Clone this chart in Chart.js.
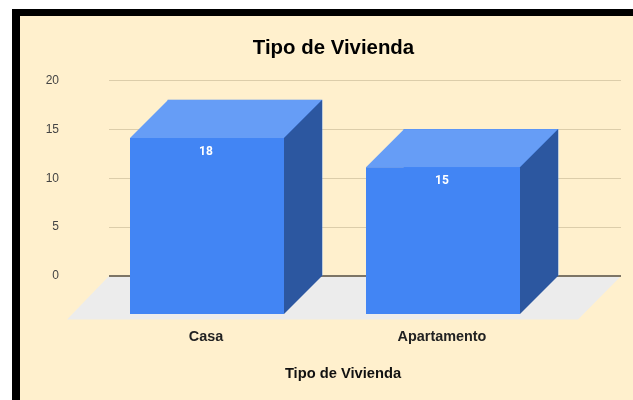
<!DOCTYPE html>
<html><head><meta charset="utf-8">
<style>
html,body{margin:0;padding:0;background:#fff;width:633px;height:400px;overflow:hidden}
#panel{position:absolute;left:12px;top:9px;width:613px;height:384px;border-left:8px solid #000;border-top:7px solid #000;background:#fff0cd}
#wrap{position:absolute;left:0;top:0;width:633px;height:400px}
</style>
<script src="https://cdn.jsdelivr.net/npm/chart.js@4"></script>
</head><body>
<div id="panel"></div>
<div id="wrap"><canvas id="c" width="633" height="400"></canvas></div>
<script>
const categories = ['Casa', 'Apartamento'];
const seriesName = 'Tipo de Vivienda';
const seriesValues = [18, 15];
const yTicks = [0, 5, 10, 15, 20];
const chartTitle = 'Tipo de Vivienda';
const xAxisTitle = 'Tipo de Vivienda';

const DEPTH = 38;
const FONT = '"Liberation Sans", Arial, sans-serif';
const poly = (ctx, pts, fill) => {
  ctx.beginPath();
  pts.forEach((p, i) => i ? ctx.lineTo(p[0], p[1]) : ctx.moveTo(p[0], p[1]));
  ctx.closePath();
  ctx.fillStyle = fill;
  ctx.fill();
};
const box3d = {
  id: 'box3d',
  afterLayout(chart) {
    chart.titleBlock.left += 17;
    chart.titleBlock.right += 17;
  },
  beforeDatasetsDraw(chart) {
    const { ctx, chartArea: a, scales: { y } } = chart;
    const L = a.left - 18, R = a.right + 22;
    const y0 = y.getPixelForValue(0);
    ctx.save();
    poly(ctx, [[L, y0], [R, y0], [R - 43, y0 + 43.5], [L - 42, y0 + 43.5]], '#ececec');
    yTicks.forEach(v => {
      const py = Math.round(y.getPixelForValue(v));
      ctx.fillStyle = v === 0 ? '#7d7566' : '#dccdaa';
      const h = v === 0 ? 2 : 1;
      ctx.fillRect(L, py - (v === 0 ? 1 : 0), R - L, h);
    });
    ctx.restore();
  },
  afterDatasetsDraw(chart) {
    const { ctx } = chart;
    const meta = chart.getDatasetMeta(0);
    ctx.save();
    meta.data.forEach((bar, i) => {
      const l = bar.x - bar.width / 2, r = bar.x + bar.width / 2, t = bar.y, b = bar.base;
      poly(ctx, [[l - DEPTH, t + DEPTH], [l, t], [r, t], [r - DEPTH, t + DEPTH]], '#669df6');
      poly(ctx, [[r - DEPTH, t + DEPTH], [r, t], [r, b], [r - DEPTH, b + DEPTH]], '#2c57a0');
      poly(ctx, [[l - DEPTH, t + DEPTH], [r - DEPTH, t + DEPTH], [r - DEPTH, b + DEPTH], [l - DEPTH, b + DEPTH]], '#4285f4');
      ctx.fillStyle = '#fff';
      ctx.font = 'bold 12px Roboto, ' + FONT;
      ctx.textAlign = 'center';
      ctx.textBaseline = 'middle';
      ctx.fillText(String(seriesValues[i]), bar.x - DEPTH - 1, t + DEPTH + 14);
    });
    ctx.fillStyle = '#111';
    ctx.font = 'bold 14.7px ' + FONT;
    ctx.textAlign = 'center';
    ctx.textBaseline = 'middle';
    ctx.fillText(xAxisTitle, 343, 374);
    ctx.restore();
  }
};
new Chart(document.getElementById('c'), {
  type: 'bar',
  data: {
    labels: categories,
    datasets: [{ label: seriesName, data: seriesValues, backgroundColor: '#4285f4', borderWidth: 0, barThickness: 154 }]
  },
  options: {
    responsive: false,
    animation: false,
    layout: { padding: { left: 34, right: 34, top: 0, bottom: 0 } },
    plugins: {
      legend: { display: false },
      tooltip: { enabled: false },
      title: {
        display: true, text: chartTitle, color: '#000',
        font: { family: FONT, size: 20.4, weight: 'bold' },
        padding: { top: 36, bottom: 20 }
      }
    },
    scales: {
      x: {
        grid: { display: false, drawBorder: false },
        border: { display: false },
        afterFit(s) { s.height = 124; },
        ticks: { color: '#222', padding: 44, labelOffset: -39, maxRotation: 0, font: { family: FONT, size: 14.4, weight: 'bold' } }
      },
      y: {
        min: 0, max: 20,
        grid: { display: false },
        border: { display: false },
        afterFit(s) { s.width = 93; },
        afterBuildTicks(s) { s.ticks = yTicks.map(v => ({ value: v })); },
        ticks: { color: '#444', padding: 60, font: { family: FONT, size: 12 } }
      }
    }
  },
  plugins: [box3d]
});
</script>
</body></html>
